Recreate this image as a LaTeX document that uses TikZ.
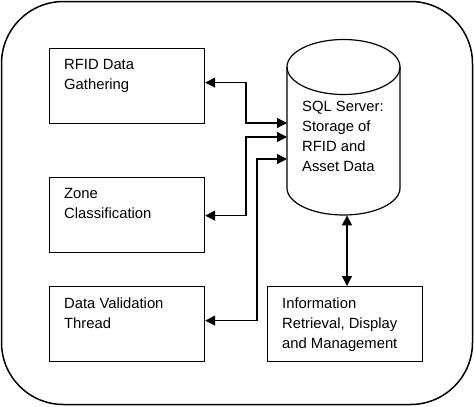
\documentclass[tikz,border=0pt]{standalone}
\usepackage{fontspec}
\setmainfont{Liberation Sans}
\usetikzlibrary{arrows.meta,calc}
\tikzset{
  box/.style={draw, line width=1.2pt, minimum width=155pt, minimum height=75pt, anchor=north west, inner sep=0pt},
  txt/.style={anchor=north west, inner sep=0pt, align=left, font=\fontsize{14.8}{20}\selectfont},
  dbl/.style={line width=1.2pt, {Triangle[length=10pt,width=10pt]}-{Triangle[length=10pt,width=10pt]}},
}
\begin{document}
\begin{tikzpicture}[x=1pt,y=-1pt]
\useasboundingbox (0,0) rectangle (474,407);
\draw[line width=1.5pt, rounded corners=62pt] (1.5,1.5) rectangle (472.5,404.5);
% boxes
\node[box] (rfid) at (49,48) {};
\node[box] (zone) at (49,177) {};
\node[box] (valid) at (49,286) {};
\node[box] (info) at (267,286) {};
\node[txt] (trfid) at ($(rfid.north west)+(15,10.7)$) {RFID Data\\Gathering};
\node[txt] (tzone) at ($(zone.north west)+(15,10.7)$) {Zone\\Classification};
\node[txt] (tvalid) at ($(valid.north west)+(15,11.7)$) {Data Validation\\Thread};
\node[txt] (tinfo) at ($(info.north west)+(15,11.7)$) {Information\\Retrieval, Display\\and Management};
% cylinder
\node[minimum width=113pt, minimum height=177pt, anchor=north west, inner sep=0pt] (cyl) at (287,38) {};
\draw[line width=1.2pt] (287,67) -- (287,188) arc[start angle=180,end angle=360,x radius=56.5pt,y radius=27pt] -- (400,67);
\draw[line width=1.2pt] (343.5,67) ellipse[x radius=56.5pt,y radius=27.5pt];
\node[txt] (tcyl) at (302,100.7) {SQL Server:\\Storage of\\RFID and\\Asset Data};
% connectors
\coordinate (c1) at (cyl.west |- 0,123);
\coordinate (c2) at (cyl.west |- 0,137);
\coordinate (c3) at (cyl.west |- 0,159);
\draw[dbl] ($(rfid.east)+(0,-3.5)$) -| (246,123) -- (c1);
\draw[dbl] ($(zone.east)+(0,0.5)$) -| (246,137) -- (c2);
\draw[dbl] ($(valid.east)+(0,-3.5)$) -| (257,159) -- (c3);
\draw[dbl] (cyl.south -| 347,0) -- (info.north -| 347,0);
\end{tikzpicture}
\end{document}
